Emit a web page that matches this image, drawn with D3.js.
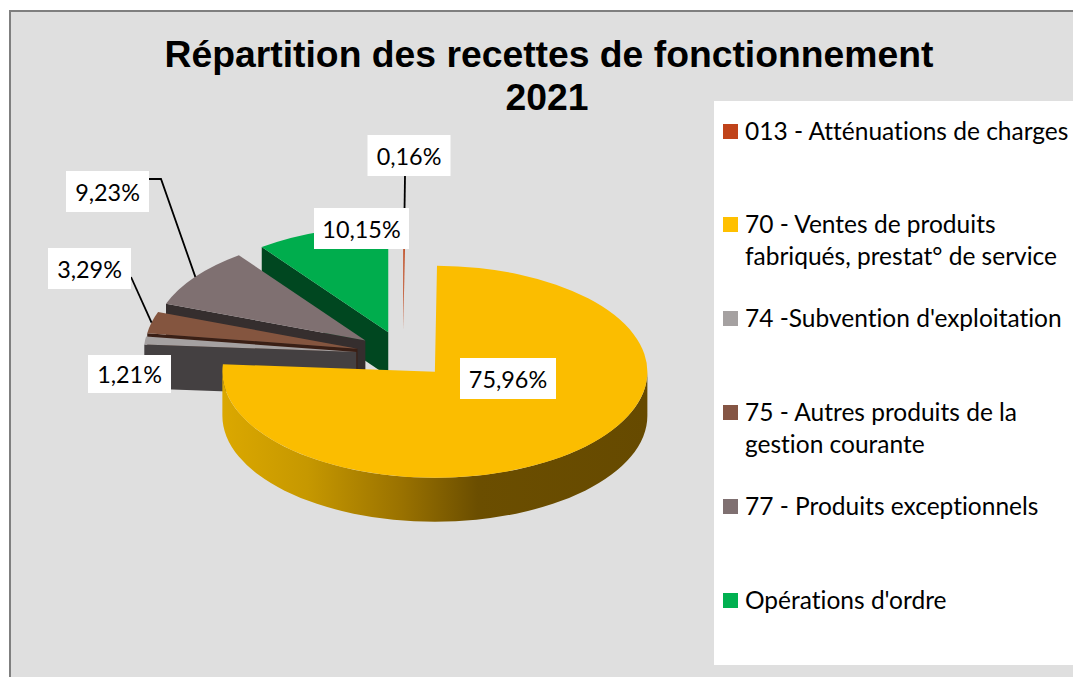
<!DOCTYPE html>
<html lang="fr">
<head>
	<meta charset="utf-8">
	<title>Répartition des recettes de fonctionnement 2021</title>
	<script src="https://d3js.org/d3.v7.min.js"></script>
	<style>
		html, body { margin: 0; padding: 0; background: #fff; }
		svg { display: block; }
		text { font-family: Lato, sans-serif; fill: #000; font-variant-ligatures: none; }
		.title { font-family: "Liberation Sans", Arial, sans-serif; font-weight: bold; font-size: 37.3px; }
		.label { font-size: 23.4px; text-anchor: middle; }
		.legend { font-size: 24.5px; }
	</style>
</head>
<body>
	<div id="chart"></div>
	<script>
	// data
	var titleLines = ["Répartition des recettes de fonctionnement", "2021"];
	var categories = [
		["013 - Atténuations de charges"],
		["70 - Ventes de produits", "fabriqués, prestat° de service"],
		["74 -Subvention d'exploitation"],
		["75 - Autres produits de la", "gestion courante"],
		["77 - Produits exceptionnels"],
		["Opérations d'ordre"]
	];
	var percents = [0.16, 75.96, 1.21, 3.29, 9.23, 10.15];
	var percentLabels = ["0,16%", "75,96%", "1,21%", "3,29%", "9,23%", "10,15%"];

	// colours: legend swatch, top face, cut face
	var legendColors = ["#c0431a", "#ffc000", "#a5a1a1", "#855544", "#7f7071", "#00b050"];
	var topColors = ["#c0451a", "#fbbd00", "#a5a1a1", "#84553f", "#7f7071", "#00ad4d"];
	var sideColors = ["#d8cfca", "#6a4d00", "#444041", "#3a1f15", "#352e2e", "#004720"];

	var width = 1073, height = 677;

	// pie geometry
	var cx = 403, cy = 354.5;
	var rx = 212.5, ry = 106;
	var depth = 44;
	var explode = 47;

	// layout of the label boxes (centre x, centre y)
	var labelBoxes = [
		{ x: 409, y: 155.5, w: 83, h: 41 },
		{ x: 508, y: 378.5, w: 96, h: 41 },
		{ x: 129.5, y: 374, w: 83, h: 38 },
		{ x: 89.5, y: 268.5, w: 83, h: 41 },
		{ x: 107.5, y: 191.5, w: 83, h: 41 },
		{ x: 361.5, y: 228.5, w: 95, h: 41 }
	];
	var legendLineY = [[140], [233, 265], [327], [421, 453], [515], [609]];

	var svg = d3.select("#chart").append("svg")
		.attr("width", width)
		.attr("height", height);

	svg.append("rect")
		.attr("x", 10).attr("y", 11)
		.attr("width", width - 9).attr("height", height - 10)
		.attr("fill", "#dfdfdf")
		.attr("stroke", "#7f7f7f")
		.attr("stroke-width", 2);

	svg.append("rect")
		.attr("x", 714).attr("y", 101)
		.attr("width", width - 714).attr("height", 564)
		.attr("fill", "#fff");

	svg.selectAll(".title")
		.data(titleLines)
		.enter().append("text")
		.attr("class", "title")
		.attr("text-anchor", "middle")
		.attr("x", function(d, i) { return i == 0 ? 549 : 547; })
		.attr("y", function(d, i) { return i == 0 ? 67 : 110; })
		.text(function(d) { return d; });

	// gradient on the yellow slice wall
	var grad = svg.append("defs").append("linearGradient")
		.attr("id", "wall")
		.attr("gradientUnits", "userSpaceOnUse")
		.attr("x1", 222).attr("y1", 0)
		.attr("x2", 648).attr("y2", 0);
	[[0, "#dba800"], [0.2, "#c69800"], [0.42, "#9a7200"], [0.6, "#6b4e00"], [1, "#664a00"]].forEach(function(s) {
		grad.append("stop").attr("offset", s[0]).attr("stop-color", s[1]);
	});

	// angles come from d3.pie, clockwise from 12 o'clock
	var pie = d3.pie().sort(null).value(function(d) { return d; });
	var slices = pie(percents);
	slices.forEach(function(d, i) {
		var mid = (d.startAngle + d.endAngle) / 2;
		d.index = i;
		d.mid = mid;
		d.ax = cx + explode * Math.sin(mid);
		d.ay = cy - explode * Math.cos(mid) * ry / rx;
	});

	function edge(d, a) {
		return [d.ax + rx * Math.sin(a), d.ay - ry * Math.cos(a)];
	}

	var arcGen = d3.arc().innerRadius(0).outerRadius(rx);

	// outer wall, only the front half of the ellipse can be seen
	function wallPath(d) {
		var a0 = Math.max(d.startAngle, Math.PI / 2);
		var a1 = Math.min(d.endAngle, 3 * Math.PI / 2);
		var p0 = edge(d, a0), p1 = edge(d, a1);
		var s = " " + rx + " " + ry + " 0 0 ";
		return "M" + p0 + "A" + s + "1 " + p1 +
			"L" + [p1[0], p1[1] + depth] +
			"A" + s + "0 " + [p0[0], p0[1] + depth] + "Z";
	}

	// face cut along the radius at the start of a slice
	function cutPath(d) {
		var p = edge(d, d.startAngle);
		return "M" + [d.ax, d.ay] + "L" + p + "L" + [p[0], p[1] + depth] +
			"L" + [d.ax, d.ay + depth] + "Z";
	}

	// back to front
	var order = [5, 0, 4, 3, 2, 1];
	var g = svg.append("g");
	order.forEach(function(i) {
		var d = slices[i];
		if (i != 1) {
			g.append("path").attr("d", cutPath(d)).attr("fill", sideColors[i]);
		} else {
			g.append("path").attr("d", wallPath(d)).attr("fill", "url(#wall)");
		}
		g.append("path")
			.attr("d", arcGen(d))
			.attr("transform", "translate(" + d.ax + "," + d.ay + ") scale(1," + ry / rx + ")")
			.attr("fill", topColors[i]);
	});

	// leader lines
	var line = d3.line();
	var leaders = [
		{ slice: 0, from: [[405, 176]] },
		{ slice: 4, from: [[149, 179], [161, 179]] },
		{ slice: 3, from: [[131, 277]] }
	];
	leaders.forEach(function(l) {
		var d = slices[l.slice];
		svg.append("path")
			.attr("d", line(l.from.concat([edge(d, d.mid)])))
			.attr("fill", "none")
			.attr("stroke", "#000")
			.attr("stroke-width", 1.8);
	});

	// data labels
	var labels = svg.selectAll(".lab")
		.data(percentLabels)
		.enter().append("g")
		.attr("class", "lab")
		.attr("transform", function(d, i) { return "translate(" + labelBoxes[i].x + "," + labelBoxes[i].y + ")"; });
	labels.append("rect")
		.attr("x", function(d, i) { return -labelBoxes[i].w / 2; })
		.attr("y", function(d, i) { return -labelBoxes[i].h / 2; })
		.attr("width", function(d, i) { return labelBoxes[i].w; })
		.attr("height", function(d, i) { return labelBoxes[i].h; })
		.attr("fill", "#fff");
	labels.append("text")
		.attr("class", "label")
		.attr("y", 9)
		.text(function(d) { return d; });

	// legend
	categories.forEach(function(lines, i) {
		svg.append("rect")
			.attr("x", 723)
			.attr("y", legendLineY[i][0] - 16)
			.attr("width", 15)
			.attr("height", 15)
			.attr("fill", legendColors[i]);
		lines.forEach(function(t, j) {
			svg.append("text")
				.attr("class", "legend")
				.attr("x", 745)
				.attr("y", legendLineY[i][j])
				.text(t);
		});
	});
	</script>
</body>
</html>
